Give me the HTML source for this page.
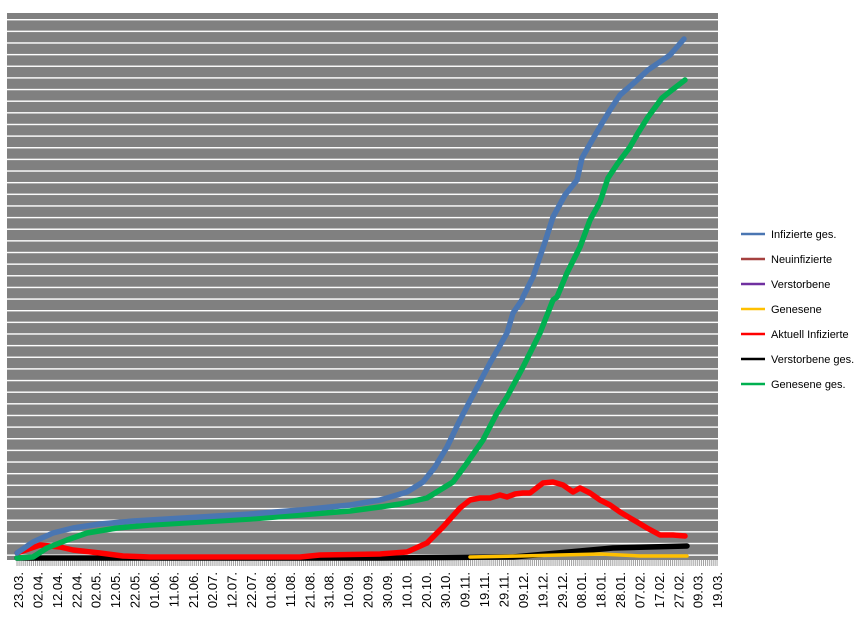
<!DOCTYPE html>
<html><head><meta charset="utf-8"><style>body{margin:0;background:#fff}svg{display:block}</style></head><body>
<svg width="867" height="625" viewBox="0 0 867 625" xmlns="http://www.w3.org/2000/svg" font-family="Liberation Sans, sans-serif">
<defs>
<pattern id="grid" patternUnits="userSpaceOnUse" x="0" y="19" width="10" height="11.64"><rect x="0" y="0" width="10" height="1.4" fill="#fff"/></pattern>
<pattern id="tick" patternUnits="userSpaceOnUse" x="17.5" y="0" width="1.942" height="10"><rect x="0" y="0" width="0.9" height="10" fill="#999"/></pattern>
</defs>
<rect x="7" y="13" width="711" height="547" fill="#808080"/>
<rect x="7" y="18.8" width="711" height="538" fill="url(#grid)"/>
<rect x="16" y="560" width="702" height="6" fill="url(#tick)"/>
<g fill="none" stroke-width="5.5" stroke-linejoin="round" stroke-linecap="round">
<polyline stroke="#000" points="17,558 100,558 380,558 513,557 613,548 687,546"/>
<polyline stroke="#ffc000" stroke-width="3.5" points="470,557 520,556 560,555 600,554 640,556 687,556"/>
<polyline stroke="#ff0000" points="17,553 40,545 60,547 73,550 100,553 123,556 150,557 300,557 320,555 380,554 407,552 427,543 443,527 460,508 470,500 480,498 490,498 500,495 507,497 515,494 523,493 530,493 543,483 553,482 563,485 573,492 580,488 590,493 600,500 610,505 620,512 630,518 637,522 647,528 660,535 673,535 685,536"/>
<polyline stroke="#00b050" points="17,558 33,557 47,548 67,540 87,533 117,528 150,525 200,522 250,519 300,515 350,511 380,507 400,504 427,498 453,482 467,463 483,440 497,413 507,397 523,367 540,333 553,300 557,297 567,273 580,247 590,220 600,202 608,178 618,163 630,147 638,133 648,117 662,98 672,90 685,80"/>
<polyline stroke="#4a76b2" points="17,553 33,542 53,533 73,528 100,524 133,521 200,517 250,514 300,510 350,505 380,500 407,492 423,482 435,467 447,447 460,420 472,397 490,363 507,333 513,313 522,300 523,297 533,277 545,242 553,217 565,195 577,180 582,158 598,130 610,110 620,95 635,82 648,70 670,55 684,39"/>
</g>
<g font-size="13" fill="#000" text-anchor="end">
<text transform="translate(23,572) rotate(-90)">23.03.</text>
<text transform="translate(42.4,572) rotate(-90)">02.04.</text>
<text transform="translate(61.8,572) rotate(-90)">12.04.</text>
<text transform="translate(81.3,572) rotate(-90)">22.04.</text>
<text transform="translate(100.7,572) rotate(-90)">02.05.</text>
<text transform="translate(120.1,572) rotate(-90)">12.05.</text>
<text transform="translate(139.5,572) rotate(-90)">22.05.</text>
<text transform="translate(158.9,572) rotate(-90)">01.06.</text>
<text transform="translate(178.4,572) rotate(-90)">11.06.</text>
<text transform="translate(197.8,572) rotate(-90)">21.06.</text>
<text transform="translate(217.2,572) rotate(-90)">02.07.</text>
<text transform="translate(236.6,572) rotate(-90)">12.07.</text>
<text transform="translate(256,572) rotate(-90)">22.07.</text>
<text transform="translate(275.5,572) rotate(-90)">01.08.</text>
<text transform="translate(294.9,572) rotate(-90)">11.08.</text>
<text transform="translate(314.3,572) rotate(-90)">21.08.</text>
<text transform="translate(333.7,572) rotate(-90)">31.08.</text>
<text transform="translate(353.1,572) rotate(-90)">10.09.</text>
<text transform="translate(372.6,572) rotate(-90)">20.09.</text>
<text transform="translate(392,572) rotate(-90)">30.09.</text>
<text transform="translate(411.4,572) rotate(-90)">10.10.</text>
<text transform="translate(430.8,572) rotate(-90)">20.10.</text>
<text transform="translate(450.2,572) rotate(-90)">30.10.</text>
<text transform="translate(469.7,572) rotate(-90)">09.11.</text>
<text transform="translate(489.1,572) rotate(-90)">19.11.</text>
<text transform="translate(508.5,572) rotate(-90)">29.11.</text>
<text transform="translate(527.9,572) rotate(-90)">09.12.</text>
<text transform="translate(547.3,572) rotate(-90)">19.12.</text>
<text transform="translate(566.8,572) rotate(-90)">29.12.</text>
<text transform="translate(586.2,572) rotate(-90)">08.01.</text>
<text transform="translate(605.6,572) rotate(-90)">18.01.</text>
<text transform="translate(625,572) rotate(-90)">28.01.</text>
<text transform="translate(644.4,572) rotate(-90)">07.02.</text>
<text transform="translate(663.9,572) rotate(-90)">17.02.</text>
<text transform="translate(683.3,572) rotate(-90)">27.02.</text>
<text transform="translate(702.7,572) rotate(-90)">09.03.</text>
<text transform="translate(722.1,572) rotate(-90)">19.03.</text>
</g>
<g stroke-width="2.5">
<line x1="741" y1="234" x2="765" y2="234" stroke="#4a76b2"/>
<line x1="741" y1="259" x2="765" y2="259" stroke="#a5413f"/>
<line x1="741" y1="284" x2="765" y2="284" stroke="#7030a0"/>
<line x1="741" y1="309" x2="765" y2="309" stroke="#ffc000"/>
<line x1="741" y1="334" x2="765" y2="334" stroke="#ff0000"/>
<line x1="741" y1="359" x2="765" y2="359" stroke="#000"/>
<line x1="741" y1="384" x2="765" y2="384" stroke="#00b050"/>
</g>
<g font-size="11" fill="#000">
<text x="771" y="238">Infizierte ges.</text>
<text x="771" y="263">Neuinfizierte</text>
<text x="771" y="288">Verstorbene</text>
<text x="771" y="313">Genesene</text>
<text x="771" y="338">Aktuell Infizierte</text>
<text x="771" y="363">Verstorbene ges.</text>
<text x="771" y="388">Genesene ges.</text>
</g>
</svg>
</body></html>
